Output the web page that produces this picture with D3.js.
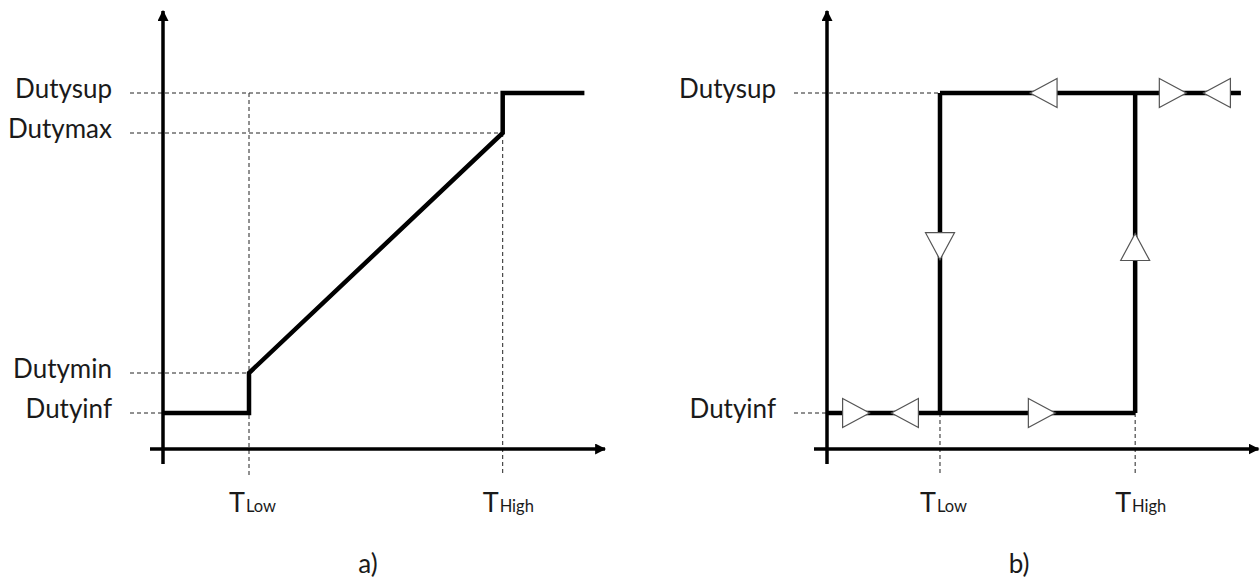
<!DOCTYPE html>
<html>
<head>
<meta charset="utf-8">
<script src="https://cdn.jsdelivr.net/npm/d3@7"></script>
<style>
  html, body { margin: 0; padding: 0; background: #fff; }
  svg { display: block; }
  text { font-family: Lato, "Open Sans", sans-serif; fill: #1a1a1a; }
</style>
</head>
<body>
<svg id="chart" width="1260" height="578"></svg>
<script>
// ---------------- DATA ----------------
// Panel a) : duty levels and temperature thresholds
const levelNamesA = ["Dutyinf", "Dutymin", "Dutymax", "Dutysup"];
const levelValuesA = [9, 19, 79, 89];
const thresholdNamesA = ["Low", "High"];
const thresholdValuesA = [20, 79];
// piecewise curve (temperature, duty)
const curveA_T = [0, 20, 20, 79, 79, 98];
const curveA_D = [9, 9, 19, 79, 89, 89];

// Panel b) : hysteresis
const levelNamesB = ["Dutyinf", "Dutysup"];
const levelValuesB = [9, 89];
const thresholdNamesB = ["Low", "High"];
const thresholdValuesB = [26.4, 72];
const bottomB_T = [0, 72];
const topB_T = [26.4, 96.7];
// direction markers (temperature, duty, direction)
const markerT = [6.8, 18.2, 50.2, 50.6, 80.8, 91.1, 26.4, 72];
const markerD = [9, 9, 9, 89, 89, 89, 50.7, 50.5];
const markerDir = ["right", "left", "right", "left", "right", "left", "down", "up"];

const panelLabels = ["a)", "b)"];

// ---------------- DRAW ----------------
const svg = d3.select("#chart");

const defs = svg.append("defs");
defs.append("marker")
  .attr("id", "axArrow")
  .attr("viewBox", "0 0 10 10")
  .attr("refX", 9).attr("refY", 5)
  .attr("markerWidth", 11).attr("markerHeight", 11)
  .attr("markerUnits", "userSpaceOnUse")
  .attr("orient", "auto")
  .append("path").attr("d", "M0,0 L10,5 L0,10 Z").attr("fill", "#000");

const y = d3.scaleLinear().domain([0, 110]).range([449, 9]);

function drawPanel(cfg) {
  const g = svg.append("g");
  const x = cfg.x;
  const x0 = x(0);
  const y0 = y(0);

  const dash = g.append("g").attr("stroke", "#222").attr("stroke-width", 1)
    .attr("stroke-dasharray", "4,3").attr("fill", "none");
  cfg.levelValues.forEach((v, i) => {
    dash.append("line")
      .attr("x1", x0 - 33).attr("x2", cfg.levelEnd[i])
      .attr("y1", y(v)).attr("y2", y(v));
  });
  cfg.thresholds.forEach((t, i) => {
    dash.append("line")
      .attr("x1", x(t)).attr("x2", x(t))
      .attr("y1", cfg.thrTop[i]).attr("y2", y0 + 27);
  });

  const ax = g.append("g").attr("stroke", "#000").attr("stroke-width", 3.5);
  ax.append("line").attr("x1", x0).attr("x2", x0)
    .attr("y1", y0 + 15).attr("y2", y(109.5))
    .attr("marker-end", "url(#axArrow)");
  ax.append("line").attr("x1", x0 - 13).attr("x2", cfg.xEnd)
    .attr("y1", y0).attr("y2", y0)
    .attr("marker-end", "url(#axArrow)");

  cfg.levelNames.forEach((n, i) => {
    g.append("text")
      .attr("x", x0 - 51).attr("y", y(cfg.levelValues[i]) + 5)
      .attr("text-anchor", "end")
      .attr("font-size", 26)
      .text(n);
  });

  cfg.thresholds.forEach((t, i) => {
    const tx = g.append("text")
      .attr("x", x(t) - 20).attr("y", 512);
    tx.append("tspan").attr("font-size", 27).text("T");
    tx.append("tspan").attr("font-size", 16.5).attr("dx", 1).text(cfg.thresholdNames[i]);
  });

  g.append("text")
    .attr("x", cfg.labelX).attr("y", 573)
    .attr("text-anchor", "middle")
    .attr("font-size", 26)
    .text(cfg.label);
  return g;
}

// ---------- Panel a ----------
const xa = d3.scaleLinear().domain([0, 100]).range([163, 593]);
const ga = drawPanel({
  x: xa,
  levelNames: levelNamesA,
  levelValues: levelValuesA,
  levelEnd: [xa(0), xa(thresholdValuesA[0]), xa(thresholdValuesA[1]), xa(thresholdValuesA[1])],
  thresholds: thresholdValuesA,
  thresholdNames: thresholdNamesA,
  thrTop: [y(levelValuesA[3]), y(levelValuesA[2])],
  xEnd: xa(102.8),
  label: panelLabels[0],
  labelX: 368
});
const lineA = d3.line().x(d => xa(d[0])).y(d => y(d[1]));
ga.append("path")
  .attr("d", lineA(curveA_T.map((t, i) => [t, curveA_D[i]])))
  .attr("fill", "none").attr("stroke", "#000").attr("stroke-width", 4.5)
  .attr("stroke-linejoin", "miter");

// ---------- Panel b ----------
const xb = d3.scaleLinear().domain([0, 100]).range([827, 1255]);
const gb = drawPanel({
  x: xb,
  levelNames: levelNamesB,
  levelValues: levelValuesB,
  levelEnd: [xb(0), xb(thresholdValuesB[0])],
  thresholds: thresholdValuesB,
  thresholdNames: thresholdNamesB,
  thrTop: [y(levelValuesB[0]), y(levelValuesB[0])],
  xEnd: xb(100.8),
  label: panelLabels[1],
  labelX: 1019
});
const lineB = d3.line().x(d => xb(d[0])).y(d => y(d[1]));
const loopStroke = { fill: "none", stroke: "#000", "stroke-width": 4.5 };
function styled(p) { Object.entries(loopStroke).forEach(([k, v]) => p.attr(k, v)); return p; }
styled(gb.append("path").attr("d", lineB(bottomB_T.map(t => [t, levelValuesB[0]]))));
styled(gb.append("path").attr("d", lineB(topB_T.map(t => [t, levelValuesB[1]]))));
thresholdValuesB.forEach(t => {
  styled(gb.append("path").attr("d", lineB([[t, levelValuesB[0]], [t, levelValuesB[1]]])));
});

const rot = { right: 0, down: 90, left: 180, up: 270 };
gb.selectAll("path.tri")
  .data(markerT.map((t, i) => ({ t, d: markerD[i], dir: markerDir[i] })))
  .join("path")
  .attr("class", "tri")
  .attr("d", "M-13.5,-14.5 L13.5,0 L-13.5,14.5 Z")
  .attr("transform", d => `translate(${xb(d.t)},${y(d.d)}) rotate(${rot[d.dir]})`)
  .attr("fill", "#fff").attr("stroke", "#555").attr("stroke-width", 1.2)
  .attr("stroke-linejoin", "miter");
</script>
</body>
</html>
